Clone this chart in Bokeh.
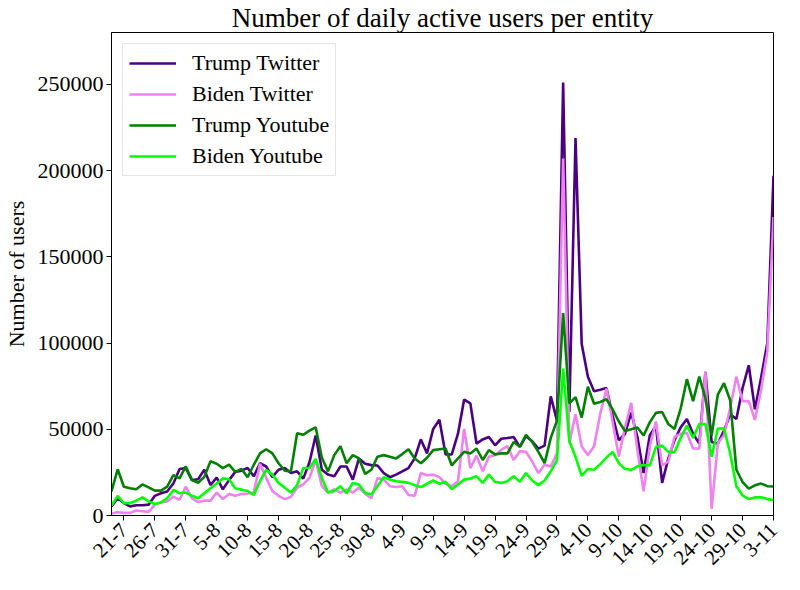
import math
from bokeh.plotting import figure
from bokeh.models import FixedTicker, Legend, LegendItem, ColumnDataSource, BasicTickFormatter
from bokeh.embed import file_html
from bokeh.resources import INLINE

# Days from 19-7 to 3-11 (108 days), x = day index
tick_labels = ["21-7", "26-7", "31-7", "5-8", "10-8", "15-8", "20-8", "25-8", "30-8",
               "4-9", "9-9", "14-9", "19-9", "24-9", "29-9", "4-10", "9-10", "14-10",
               "19-10", "24-10", "29-10", "3-11"]
tick_positions = [2 + 5 * k for k in range(len(tick_labels))]
y_ticks = [0, 50000, 100000, 150000, 200000, 250000]

trump_twitter = [5300, 10000, 7200, 5300, 5900, 5900, 6300, 11400, 12900, 13900,
                 18600, 27000, 27500, 20500, 21000, 26600, 17700, 22000, 15200, 20500,
                 25300, 26000, 27500, 22700, 30300, 28400, 22200, 26500, 27500, 24600,
                 25600, 21400, 30900, 46400, 26500, 23700, 22700, 28400, 28400, 20800,
                 33100, 30000, 29200, 29000, 24600, 22200, 23700, 25600, 27500, 33100,
                 44100, 36000, 50200, 55500, 35400, 35400, 47400, 67200, 65000, 41700,
                 44100, 45500, 40700, 44500, 44900, 45500, 39800, 46000, 43000, 38800,
                 40500, 69100, 55000, 251000, 60000, 218800, 99400, 80500, 72000, 72900,
                 73900, 57800, 43600, 47400, 59700, 45500, 24600, 46400, 52000, 18900,
                 33100, 43600, 51100, 55900, 47400, 41700, 83300, 42600, 41700, 49200,
                 58700, 55900, 73900, 87100, 61600, 80000, 100000, 197000]

biden_twitter = [1100, 1900, 1500, 1500, 2900, 2500, 2100, 6300, 7600, 8200,
                 11000, 9100, 16700, 10000, 7800, 8600, 8600, 13300, 9500, 12400,
                 11400, 12500, 12700, 13300, 30000, 21800, 14200, 11400, 9500, 10800,
                 16100, 18000, 21800, 32200, 17000, 13300, 15200, 13300, 15200, 13300,
                 16100, 12700, 10000, 21800, 20800, 17000, 16500, 17000, 11900, 11400,
                 24600, 23300, 23700, 22200, 18400, 17000, 19900, 50200, 27500, 34700,
                 25600, 34100, 35000, 38000, 40300, 32200, 37300, 36900, 31300, 24600,
                 29400, 28400, 36000, 207000, 42000, 58700, 40000, 35000, 40200, 59000,
                 73600, 54000, 34100, 51100, 65300, 38000, 14000, 40000, 54500, 29000,
                 31300, 45500, 47400, 47800, 38800, 38800, 83300, 3800, 42000, 46500,
                 62500, 80500, 66300, 66300, 55400, 73000, 95000, 173000]

trump_youtube = [14000, 26800, 16700, 15800, 15200, 18000, 16300, 14400, 14400, 16700,
                 23400, 21500, 28500, 20500, 19000, 22400, 31400, 30000, 27500, 29500,
                 25300, 27000, 22200, 29400, 36000, 38400, 36000, 30300, 26000, 25600,
                 47700, 46800, 49200, 51100, 33500, 25600, 35000, 40200, 30300, 35000,
                 33100, 24100, 26500, 34100, 35000, 34100, 33100, 35600, 38400, 33100,
                 30300, 33500, 37900, 38400, 38800, 29000, 33100, 36900, 36000, 38800,
                 32200, 37900, 35400, 36000, 36000, 42600, 39800, 46800, 42600, 36900,
                 30300, 45000, 55000, 117400, 65000, 68600, 56800, 74600, 64800, 65800,
                 67400, 61500, 54500, 49000, 50000, 51000, 46400, 54000, 59500, 60000,
                 53000, 50200, 62000, 79000, 66300, 80500, 68000, 46400, 70100, 76700,
                 66800, 26500, 19400, 15600, 17500, 18500, 17000, 16800]

biden_youtube = [5700, 11400, 7200, 7200, 8600, 10500, 8200, 6700, 7600, 10000,
                 14800, 12900, 13300, 11400, 10000, 12900, 15800, 18600, 21500, 21000,
                 15800, 15000, 14200, 11900, 19900, 26500, 23700, 18900, 16100, 13300,
                 17600, 27500, 27500, 32800, 21800, 13300, 14200, 17000, 12900, 18900,
                 18000, 13000, 12300, 17000, 22200, 20800, 19900, 19500, 18900, 17600,
                 16500, 18400, 20300, 18400, 19500, 15200, 18000, 20800, 21400, 22700,
                 18900, 23700, 19400, 18900, 19900, 22700, 19500, 24600, 20300, 17600,
                 20300, 25600, 32000, 85200, 43000, 34000, 23000, 27000, 26500, 29800,
                 33600, 36900, 30300, 27000, 26500, 28500, 29300, 29000, 39800, 40500,
                 36900, 36700, 45000, 52100, 45000, 53000, 53000, 34100, 50400, 50400,
                 36000, 17000, 11600, 9500, 10500, 10600, 9500, 9000]

series_names = ["Trump Twitter", "Biden Twitter", "Trump Youtube", "Biden Youtube"]
series_values = [trump_twitter, biden_twitter, trump_youtube, biden_youtube]
series_colors = ["#4B0082", "#EE82EE", "#008000", "#00FF00"]

days = list(range(len(trump_twitter)))

FONT = "Liberation Serif"

p = figure(width=784, height=574, output_backend="svg", toolbar_location=None,
           x_range=(0, days[-1]), y_range=(0, 280000),
           min_border_left=101, min_border_right=11, min_border_top=24, min_border_bottom=49)

p.title.text = "Number of daily active users per entity"
p.title.align = "center"
p.title.text_font = FONT
p.title.text_font_style = "normal"
p.title.text_font_size = "27px"
p.title.text_color = "black"
p.title.standoff = 0
p.title.offset = 0

p.xgrid.visible = False
p.ygrid.visible = False
p.outline_line_color = "black"
p.outline_line_width = 1
p.outline_line_alpha = 1
p.background_fill_color = "white"
p.border_fill_color = "white"

items = []
for name, vals, col in zip(series_names, series_values, series_colors):
    src = ColumnDataSource(dict(x=days, y=vals))
    r = p.line("x", "y", source=src, line_color=col, line_width=2.6)
    items.append(LegendItem(label=name, renderers=[r]))

legend = Legend(items=items, location="top_left")
legend.label_text_font = FONT
legend.label_text_font_size = "22px"
legend.label_text_color = "black"
legend.glyph_width = 47
legend.glyph_height = 22
legend.label_standoff = 16
legend.label_height = 22
legend.spacing = 5
legend.padding = 6
legend.margin = 11
legend.border_line_color = "#cccccc"
legend.border_line_width = 1.2
legend.background_fill_alpha = 0.8
p.add_layout(legend)

p.xaxis.ticker = FixedTicker(ticks=tick_positions)
p.xaxis.major_label_overrides = {pos: lab for pos, lab in zip(tick_positions, tick_labels)}
p.xaxis.major_label_orientation = math.pi / 4
p.yaxis.ticker = FixedTicker(ticks=y_ticks)
p.yaxis.formatter = BasicTickFormatter(use_scientific=False)
p.yaxis.axis_label = "Number of users"
p.yaxis.axis_label_standoff = 6

for ax in (p.xaxis, p.yaxis):
    ax.major_label_text_font = FONT
    ax.major_label_text_font_size = "22px"
    ax.major_label_text_color = "black"
    ax.major_tick_in = 0
    ax.major_tick_out = 5
    ax.minor_tick_in = 0
    ax.minor_tick_out = 0
    ax.major_label_standoff = 3
    ax.axis_line_color = "black"
    ax.major_tick_line_color = "black"
p.xaxis.major_label_standoff = 6
p.xaxis.major_label_text_font_size = "21px"
p.xaxis.major_label_text_line_height = 0.6
p.yaxis.axis_label_text_font = FONT
p.yaxis.axis_label_text_font_size = "22px"
p.yaxis.axis_label_text_font_style = "normal"
p.yaxis.axis_label_text_color = "black"

open("out.html", "w").write(file_html(p, INLINE))
